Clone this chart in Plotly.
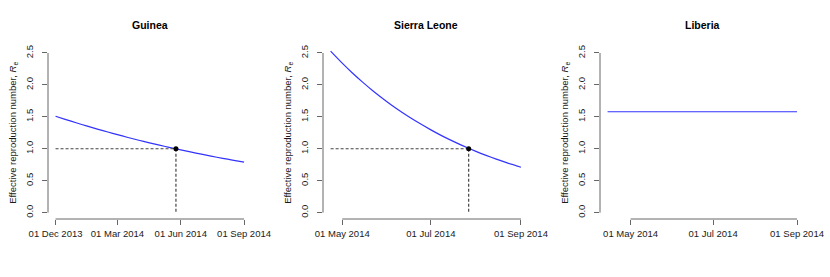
import plotly.graph_objects as go
import pandas as pd

# ---- data ----
guinea_dates = ["2013-12-01", "2013-12-15", "2014-01-01", "2014-01-15", "2014-02-01", "2014-02-15",
                "2014-03-01", "2014-03-15", "2014-04-01", "2014-04-15", "2014-05-01", "2014-05-15",
                "2014-06-01", "2014-06-15", "2014-07-01", "2014-07-15", "2014-08-01", "2014-08-15",
                "2014-09-01"]
guinea_re = [1.510, 1.461, 1.403, 1.358, 1.304, 1.262, 1.221, 1.181, 1.134, 1.097, 1.057, 1.022,
             0.982, 0.950, 0.915, 0.885, 0.850, 0.823, 0.790]
guinea_cross = "2014-05-25"

sl_dates = ["2014-04-23", "2014-05-01", "2014-05-08", "2014-05-15", "2014-05-22", "2014-06-01",
            "2014-06-08", "2014-06-15", "2014-06-22", "2014-07-01", "2014-07-08", "2014-07-15",
            "2014-07-22", "2014-08-01", "2014-08-08", "2014-08-15", "2014-08-22", "2014-09-01"]
sl_re = [2.530, 2.341, 2.187, 2.044, 1.910, 1.734, 1.619, 1.513, 1.414, 1.296, 1.210, 1.131,
         1.057, 0.959, 0.896, 0.837, 0.782, 0.710]
sl_cross = "2014-07-27"

lib_dates = ["2014-04-14", "2014-06-01", "2014-07-15", "2014-09-01"]
lib_re = [1.58, 1.58, 1.58, 1.58]

threshold = 1.0

guinea_ticks = ["2013-12-01", "2014-03-01", "2014-06-01", "2014-09-01"]
guinea_ticktext = ["01 Dec 2013", "01 Mar 2014", "01 Jun 2014", "01 Sep 2014"]
later_ticks = ["2014-05-01", "2014-07-01", "2014-09-01"]
later_ticktext = ["01 May 2014", "01 Jul 2014", "01 Sep 2014"]

y_ticks = [0.0, 0.5, 1.0, 1.5, 2.0, 2.5]
y_ticktext = ["0.0", "0.5", "1.0", "1.5", "2.0", "2.5"]

titles = ["Guinea", "Sierra Leone", "Liberia"]

# ---- layout geometry ----
W, H = 830, 277
x_domains = [(48 / W, 251.6 / W), (323 / W, 528.6 / W), (600 / W, 804.6 / W)]
y_domain = (58 / H, 230.4 / H)

FONT = "Liberation Sans, Arial, sans-serif"
AXIS_COL = "#666666"
TEXT_COL = "#1a1a1a"

panels = [
    (guinea_dates, guinea_re, guinea_cross, guinea_ticks, guinea_ticktext),
    (sl_dates, sl_re, sl_cross, later_ticks, later_ticktext),
    (lib_dates, lib_re, None, later_ticks, later_ticktext),
]

fig = go.Figure()
shapes = []
annotations = []
layout = {}

for i, (dates, vals, cross, ticks, ticktext) in enumerate(panels):
    n = "" if i == 0 else str(i + 1)
    xa, ya = "x" + n, "y" + n
    d = pd.to_datetime(dates)
    span = d.max() - d.min()
    xr = [(d.min() - span * 0.04).isoformat(), (d.max() + span * 0.04).isoformat()]
    yr = [y_ticks[0] - 0.04 * (y_ticks[-1] - y_ticks[0]), y_ticks[-1] + 0.04 * (y_ticks[-1] - y_ticks[0])]

    fig.add_trace(go.Scatter(x=dates, y=vals, mode="lines", xaxis=xa, yaxis=ya,
                             line=dict(color="#3333ff", width=1.2, shape="spline", smoothing=0.6),
                             showlegend=False, hoverinfo="skip"))
    if cross is not None:
        fig.add_trace(go.Scatter(x=[dates[0], cross], y=[threshold, threshold], mode="lines",
                                 xaxis=xa, yaxis=ya,
                                 line=dict(color="#444444", width=1.2, dash="3px,2px"),
                                 showlegend=False, hoverinfo="skip"))
        fig.add_trace(go.Scatter(x=[cross, cross], y=[threshold, y_ticks[0]], mode="lines",
                                 xaxis=xa, yaxis=ya,
                                 line=dict(color="#444444", width=1.2, dash="3px,2px"),
                                 showlegend=False, hoverinfo="skip"))
        fig.add_trace(go.Scatter(x=[cross], y=[threshold], mode="markers", xaxis=xa, yaxis=ya,
                                 marker=dict(color="black", size=5),
                                 showlegend=False, hoverinfo="skip"))

    layout["xaxis" + n] = dict(
        domain=list(x_domains[i]), range=xr, type="date", anchor=ya, automargin=False,
        tickvals=ticks, ticktext=ticktext, ticks="outside", ticklen=5, tickwidth=1,
        tickcolor=AXIS_COL, showline=False, showgrid=False, zeroline=False,
        tickfont=dict(family=FONT, size=9.5, color=TEXT_COL), ticklabelstandoff=1,
    )
    layout["yaxis" + n] = dict(
        domain=list(y_domain), range=yr, anchor=xa, automargin=False,
        tickvals=y_ticks, ticktext=y_ticktext, ticks="outside", ticklen=5, tickwidth=1,
        tickcolor=AXIS_COL, showline=False, showgrid=False, zeroline=False,
        tickangle=-90, tickfont=dict(family=FONT, size=9.5, color=TEXT_COL), ticklabelstandoff=5,
    )
    # R-style axis lines spanning only the tick range
    shapes.append(dict(type="line", xref=xa, yref=ya + " domain", x0=ticks[0], x1=ticks[-1],
                       y0=0, y1=0, line=dict(color=AXIS_COL, width=1)))
    shapes.append(dict(type="line", xref=xa + " domain", yref=ya, x0=0, x1=0,
                       y0=y_ticks[0], y1=y_ticks[-1], line=dict(color=AXIS_COL, width=1)))
    # titles
    annotations.append(dict(text="<b>" + titles[i] + "</b>", xref="paper", yref="paper",
                            x=(x_domains[i][0] + x_domains[i][1]) / 2, y=1 - 25 / H,
                            showarrow=False, xanchor="center", yanchor="middle",
                            font=dict(family=FONT, size=10.5, color="black")))
    annotations.append(dict(text="Effective reproduction number, <i>R</i><sub>e</sub>",
                            xref="paper", yref="paper",
                            x=x_domains[i][0] - 35 / W, y=(y_domain[0] + y_domain[1]) / 2,
                            textangle=-90, showarrow=False, xanchor="center", yanchor="middle",
                            font=dict(family=FONT, size=9.5, color=TEXT_COL)))

fig.update_layout(template="none", width=W, height=H, margin=dict(l=0, r=0, t=0, b=0),
                  paper_bgcolor="white", plot_bgcolor="white",
                  shapes=shapes, annotations=annotations, **layout)

fig.write_html("out.html", config={"displayModeBar": False},
               post_script="document.body.style.margin='0px';")
